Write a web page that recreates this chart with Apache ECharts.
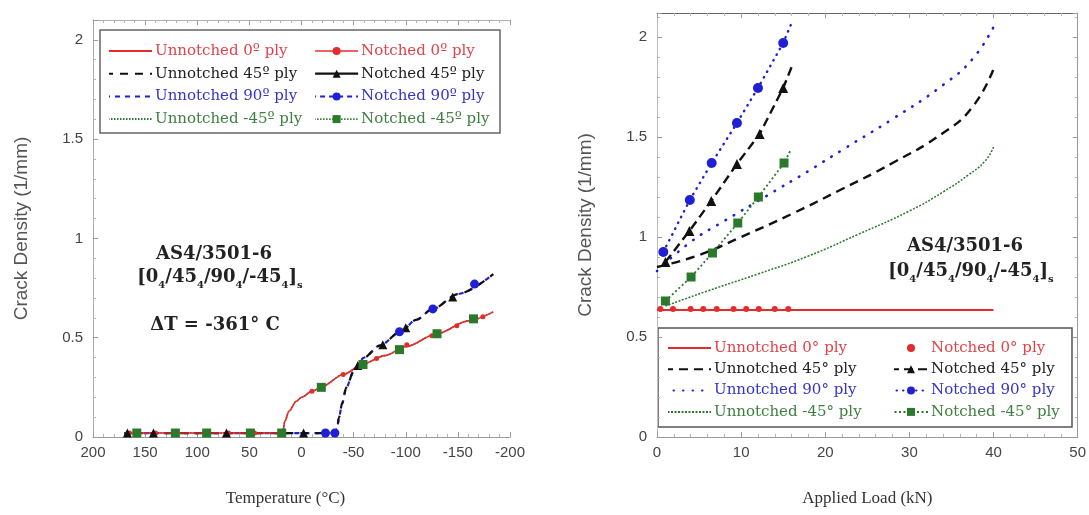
<!DOCTYPE html>
<html><head><meta charset="utf-8">
<script src="https://cdn.jsdelivr.net/npm/echarts@6/dist/echarts.min.js"></script>
<style>html,body{margin:0;padding:0;background:#fff}#c{width:1089px;height:515px}</style>
</head><body><div id="c"></div>
<script>
// ---------- Left chart: crack density vs temperature ----------
const tempUn0   = [170, 18, 16, 12, 5, 0, -10, -20, -40, -60, -80, -100, -130, -160, -184];
const densUn0   = [0.02, 0.02, 0.08, 0.13, 0.18, 0.20, 0.23, 0.255, 0.315, 0.37, 0.41, 0.455, 0.52, 0.585, 0.63];
const tempUnM45 = [170, 18, 16, 12, 5, 0, -10, -20, -40, -60, -80, -100, -130, -160, -184];
const densUnM45 = [0.02, 0.02, 0.08, 0.13, 0.18, 0.20, 0.23, 0.255, 0.315, 0.37, 0.41, 0.455, 0.52, 0.585, 0.63];
const tempUn45  = [170, -32, -34, -36, -39, -43, -50, -60, -75, -95, -110, -126, -150, -184];
const densUn45  = [0.02, 0.02, 0.04, 0.10, 0.17, 0.25, 0.33, 0.40, 0.46, 0.53, 0.59, 0.645, 0.72, 0.82];
const tempUn90  = [170, -32, -34, -36, -39, -43, -50, -60, -75, -95, -110, -126, -150, -184];
const densUn90  = [0.02, 0.02, 0.04, 0.10, 0.17, 0.25, 0.33, 0.40, 0.46, 0.53, 0.59, 0.645, 0.72, 0.82];
const tempN0    = [165, 140, 120, 90, 70, 45, 18, -10, -40, -72, -101, -125, -149, -174];
const densN0    = [0.02, 0.02, 0.02, 0.02, 0.02, 0.02, 0.02, 0.23, 0.315, 0.395, 0.465, 0.51, 0.56, 0.605];
const tempN45   = [167, 142, 72, -2, -54, -78, -100, -145];
const densN45   = [0.02, 0.02, 0.02, 0.02, 0.36, 0.465, 0.55, 0.705];
const tempN90   = [-23, -32, -94, -126, -166];
const densN90   = [0.02, 0.02, 0.53, 0.645, 0.77];
const tempNM45  = [158, 121, 91, 49, 19, -19, -59, -94, -130, -165];
const densNM45  = [0.02, 0.02, 0.02, 0.02, 0.02, 0.25, 0.365, 0.44, 0.52, 0.595];

// ---------- Right chart: crack density vs applied load ----------
const loadUn0   = [0, 40];
const densRUn0  = [0.635, 0.635];
const loadUn45  = [0, 5, 10, 16, 22, 28, 34, 37.5, 40];
const densRUn45 = [0.85, 0.91, 1.0, 1.115, 1.24, 1.37, 1.52, 1.65, 1.84];
const loadUn90  = [0, 4, 8, 13, 18, 22, 28, 34, 37.5, 40];
const densRUn90 = [0.83, 0.975, 1.08, 1.205, 1.33, 1.435, 1.59, 1.76, 1.89, 2.05];
const loadUnM45 = [1, 6, 12, 18, 24, 30, 34, 37, 39, 40];
const densRUnM45= [0.655, 0.73, 0.815, 0.905, 1.015, 1.13, 1.225, 1.31, 1.38, 1.45];
const loadN0    = [0.4, 1.9, 4, 5.5, 7.1, 9.1, 10.6, 12.1, 14.0, 15.6];
const densRN0   = [0.64, 0.64, 0.64, 0.64, 0.64, 0.64, 0.64, 0.64, 0.64, 0.64];
const loadN45   = [1, 3.85, 6.45, 9.5, 12.2, 15.0, 16.0];
const densRN45  = [0.875, 1.03, 1.18, 1.365, 1.515, 1.745, 1.85];
const loadN90   = [0.75, 3.9, 6.5, 9.5, 12.0, 15.0, 15.9];
const densRN90  = [0.925, 1.185, 1.37, 1.57, 1.745, 1.97, 2.06];
const loadNM45  = [1, 4.05, 6.6, 9.6, 12.05, 15.1, 15.9];
const densRNM45 = [0.68, 0.80, 0.92, 1.07, 1.2, 1.37, 1.435];

const leftNames  = ['Unnotched 0º ply','Notched 0º ply','Unnotched 45º ply','Notched 45º ply','Unnotched 90º ply','Notched 90º ply','Unnotched -45º ply','Notched -45º ply'];
const rightNames = ['Unnotched 0° ply','Notched 0° ply','Unnotched 45° ply','Notched 45° ply','Unnotched 90° ply','Notched 90° ply','Unnotched -45° ply','Notched -45° ply'];

const RED = '#e52b2b', BLACK = '#111', BLUE = '#1f1fd6', GREEN = '#2b7a2b';
const TXT = {red:'#e0434a', black:'#222', blue:'#3434cc', green:'#3f7f3f'};

function pairs(xs, ys) { return xs.map((x, i) => [x, ys[i]]); }
function pairsEnd(xs, ys) { return xs.map((x, i) => i === xs.length - 1 ? {value: [x, ys[i]], symbol: 'none'} : [x, ys[i]]); }

const serifLbl = 'DejaVu Serif';
const sansLbl = 'Liberation Sans';

function lineSeries(name, xi, yi, data, color, width, dash, extra) {
  return Object.assign({
    name, type: 'line', xAxisIndex: xi, yAxisIndex: yi, data,
    symbol: 'none', smooth: 0.3, smoothMonotone: 'x',
    lineStyle: {color, width, type: dash, cap: 'butt'},
    itemStyle: {color}, z: 2
  }, extra || {});
}
function markSeries(name, xi, yi, data, color, symbol, size, lineW, dash, extra) {
  return Object.assign({
    name, type: 'line', xAxisIndex: xi, yAxisIndex: yi, data,
    symbol, symbolSize: size, showSymbol: true, showAllSymbol: true,
    lineStyle: {color, width: lineW, type: dash},
    itemStyle: {color}, z: 4
  }, extra || {});
}

const axisGray = '#9a9a9a';
function xAxisBase(grid, min, max, interval, inverse, pos, showLabel, name, lineColor, namePad) {
  return {
    type: 'value', gridIndex: grid, min, max, interval, inverse, position: pos,
    axisLine: {show: true, onZero: false, lineStyle: {color: lineColor || axisGray, width: 1}},
    axisTick: {show: true, inside: true, length: 5, lineStyle: {color: axisGray}},
    minorTick: {show: true, splitNumber: 5, length: 3, lineStyle: {color: '#b5b5b5'}},
    axisLabel: {show: showLabel, color: '#444', fontFamily: sansLbl, fontSize: 15, margin: 8},
    splitLine: {show: false},
    name: name || '', nameLocation: 'middle', nameGap: 53,
    nameTextStyle: {fontFamily: 'Liberation Serif', fontSize: 17, color: '#333', padding: namePad || 0}
  };
}
function yAxisBase(grid, max, pos, showLabel, name, lineColor, gap) {
  return {
    type: 'value', gridIndex: grid, min: 0, max, interval: 0.5, position: pos,
    axisLine: {show: true, onZero: false, lineStyle: {color: lineColor || axisGray, width: 1}},
    axisTick: {show: true, inside: true, length: 5, lineStyle: {color: axisGray}},
    minorTick: {show: true, splitNumber: 5, length: 3, lineStyle: {color: '#b5b5b5'}},
    axisLabel: {show: showLabel, showMaxLabel: false, color: '#444', fontFamily: sansLbl, fontSize: 15, margin: 10},
    splitLine: {show: false},
    name: name || '', nameLocation: 'middle', nameGap: gap || 60,
    nameTextStyle: {fontFamily: sansLbl, fontSize: 19, color: '#555'}
  };
}

function legendCol(names, colors, left, top, iw, gap, hideSym) {
  return {
    orient: 'vertical', left, top, itemWidth: iw, itemHeight: 10, itemGap: gap,
    selectedMode: false, padding: 0,
    textStyle: {fontFamily: serifLbl, fontSize: 15, lineHeight: 16, padding: [0, 0, 0, -2]},
    data: names.map((n, i) => {
      const d = {name: n, textStyle: {color: colors[i]}};
      if (hideSym) d.itemStyle = {opacity: 0};
      return d;
    })
  };
}

const subRich = {
  b: {fontFamily: serifLbl, fontWeight: 'bold', fontSize: 18, color: '#222', lineHeight: 22, verticalAlign: 'top'},
  s: {fontFamily: serifLbl, fontWeight: 'bold', fontSize: 10, color: '#222', lineHeight: 10, verticalAlign: 'bottom'}
};
const bracketTxt = '{b|[0}{s|4}{b|/45}{s|4}{b|/90}{s|4}{b|/-45}{s|4}{b|]}{s|s}';

function annot(x, y, text, rich) {
  return {type: 'text', x, y, z: 20,
    style: {text, rich, align: 'center', verticalAlign: 'middle',
      font: 'bold 18px "DejaVu Serif"', fill: '#222'}};
}

const option = {
  animation: false,
  backgroundColor: '#fff',
  grid: [
    {left: 93, right: 579, top: 20, bottom: 78},
    {left: 657, right: 9, top: 13, bottom: 78}
  ],
  xAxis: [
    xAxisBase(0, -200, 200, 50, true, 'bottom', true, 'Temperature (°C)', null, [0, 32, 0, 0]),
    xAxisBase(0, -200, 200, 50, true, 'top', false, '', '#b0b0b0'),
    xAxisBase(1, 0, 50, 10, false, 'bottom', true, 'Applied Load (kN)'),
    xAxisBase(1, 0, 50, 10, false, 'top', false, '', '#666')
  ],
  yAxis: [
    yAxisBase(0, 2.1, 'left', true, 'Crack Density (1/mm)', '#aaa', 62),
    yAxisBase(1, 2.12, 'left', true, 'Crack Density (1/mm)', '#bbb', 62),
    yAxisBase(1, 2.12, 'right', false, '', '#999')
  ],
  legend: [
    legendCol([leftNames[0], leftNames[2], leftNames[4], leftNames[6]], [TXT.red, TXT.black, TXT.blue, TXT.green], 108, 43, 43, 6.7, true),
    legendCol([leftNames[1], leftNames[3], leftNames[5], leftNames[7]], [TXT.red, TXT.black, TXT.blue, TXT.green], 314, 43, 43, 6.7, false),
    legendCol([rightNames[0], rightNames[2], rightNames[4], rightNames[6]], [TXT.red, TXT.black, TXT.blue, TXT.green], 667, 340, 43, 5.3, true),
    legendCol([rightNames[1], rightNames[3], rightNames[5], rightNames[7]], [TXT.red, TXT.black, TXT.blue, TXT.green], 893, 340, 34, 5.3, false)
  ],
  graphic: [
    {type: 'rect', shape: {x: 100, y: 30, width: 400, height: 103}, z: 0,
      style: {fill: '#fff', stroke: '#666', lineWidth: 1.5}},
    {type: 'rect', shape: {x: 658, y: 328, width: 414, height: 99}, z: 0,
      style: {fill: '#fff', stroke: '#555', lineWidth: 1.5}},
    annot(214, 254, 'AS4/3501-6'),
    annot(220, 279, bracketTxt, subRich),
    annot(215, 325, 'ΔT = -361° C'),
    annot(965, 246, 'AS4/3501-6'),
    annot(971, 273, bracketTxt, subRich)
  ],
  series: [
    // left chart
    lineSeries(leftNames[6], 0, 0, pairs(tempUnM45, densUnM45), GREEN, 1.6, [1.5, 1.5]),
    lineSeries(leftNames[0], 0, 0, pairs(tempUn0, densUn0), RED, 1.6, 'solid', {z: 3}),
    lineSeries(leftNames[4], 0, 0, pairs(tempUn90, densUn90), BLUE, 2.2, [5, 5]),
    lineSeries(leftNames[2], 0, 0, pairs(tempUn45, densUn45), BLACK, 2.2, [8, 7], {lineStyle: {color: BLACK, width: 2.2, type: [8, 7], dashOffset: 4}}),
    markSeries(leftNames[1], 0, 0, pairs(tempN0, densN0), RED, 'circle', 5, 0, 'solid'),
    markSeries(leftNames[3], 0, 0, pairs(tempN45, densN45), BLACK, 'triangle', 9, 0, 'solid'),
    markSeries(leftNames[5], 0, 0, pairs(tempN90, densN90), BLUE, 'circle', 9, 0, 'solid'),
    markSeries(leftNames[7], 0, 0, pairs(tempNM45, densNM45), GREEN, 'rect', 9, 0, 'solid'),
    // right chart
    lineSeries(rightNames[0], 2, 1, pairs(loadUn0, densRUn0), RED, 2, 'solid', {smooth: false}),
    lineSeries(rightNames[2], 2, 1, pairs(loadUn45, densRUn45), BLACK, 2.4, [9, 6], {smooth: 0.5, smoothMonotone: null}),
    lineSeries(rightNames[4], 2, 1, pairs(loadUn90, densRUn90), BLUE, 2.6, [0.5, 9], {smooth: 0.5, smoothMonotone: null, lineStyle: {color: BLUE, width: 2.6, type: [0.5, 9], cap: 'round'}}),
    lineSeries(rightNames[6], 2, 1, pairs(loadUnM45, densRUnM45), GREEN, 1.5, [2, 1.5], {smooth: 0.5, smoothMonotone: null}),
    markSeries(rightNames[1], 2, 1, pairs(loadN0, densRN0), RED, 'circle', 6, 0, 'solid'),
    markSeries(rightNames[3], 2, 1, pairsEnd(loadN45, densRN45), BLACK, 'triangle', 10, 2.4, [9, 5]),
    markSeries(rightNames[5], 2, 1, pairsEnd(loadN90, densRN90), BLUE, 'circle', 10, 2.4, [0.5, 6], {lineStyle: {color: BLUE, width: 2.4, type: [0.5, 6], cap: 'round'}}),
    markSeries(rightNames[7], 2, 1, pairsEnd(loadNM45, densRNM45), GREEN, 'rect', 9, 1.8, [2, 2.5])
  ]
};

// legend line for left notched series (markers drawn without joining line on the chart)
const legendLineLeft = {
  'Notched 0º ply': {color: RED, width: 1.6, type: 'solid'},
  'Notched 45º ply': {color: BLACK, width: 2.2, type: 'solid'},
  'Notched 90º ply': {color: BLUE, width: 2, type: [5, 4]},
  'Notched -45º ply': {color: GREEN, width: 1.6, type: [1.5, 1.5]}
};
option.legend[1].data.forEach(d => { d.lineStyle = legendLineLeft[d.name]; });
option.legend[3].data[0].lineStyle = {width: 0};

const chart = echarts.init(document.getElementById('c'), null, {renderer: 'canvas'});
chart.setOption(option);
</script></body></html>
